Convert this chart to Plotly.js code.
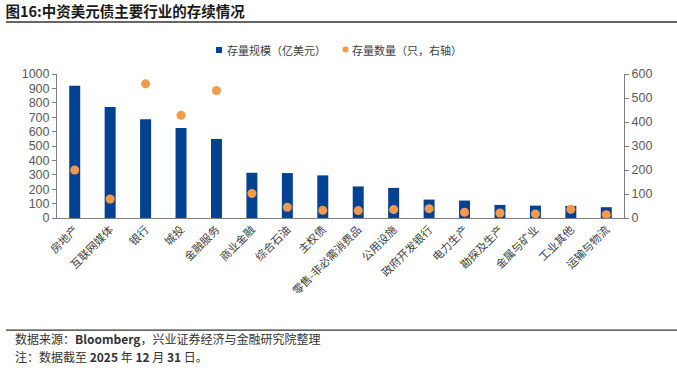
<!DOCTYPE html>
<html>
<head>
<meta charset="utf-8">
<script src="https://cdn.plot.ly/plotly-3.0.1.min.js"></script>
<style>
  html, body { margin: 0; padding: 0; background: #fff; }
  #chart { width: 677px; height: 372px; }
</style>
</head>
<body>
<div id="chart"></div>
<script>
const categories = ["房地产", "互联网媒体", "银行", "城投", "金融服务", "商业金融", "综合石油", "主权债",
  "零售-非必需消费品", "公用设施", "政府开发银行", "电力生产", "勘探及生产", "金属与矿业", "工业其他", "运输与物流"];
const sizeValues = [918, 770, 686, 625, 549, 314, 312, 296, 219, 209, 128, 121, 91, 86, 84, 75];
const countValues = [200, 79, 559, 428, 531, 102, 45, 32, 31, 35, 39, 24, 21, 17, 36, 14];
const leftTicks = [0, 100, 200, 300, 400, 500, 600, 700, 800, 900, 1000];
const rightTicks = [0, 100, 200, 300, 400, 500, 600];
const seriesNames = ["存量规模（亿美元）", "存量数量（只，右轴）"];
const barColor = "#034291";
const dotColor = "#F39A4C";

const font = "Liberation Sans, Arial, Noto Sans CJK SC, sans-serif";
const cjk = "Noto Sans CJK SC, Liberation Sans, sans-serif";

const traces = [
  {
    type: "bar", name: seriesNames[0], x: categories, y: sizeValues,
    marker: { color: barColor }, yaxis: "y", showlegend: false
  },
  {
    type: "scatter", mode: "markers", name: seriesNames[1], x: categories, y: countValues,
    marker: { color: dotColor, size: 9 }, yaxis: "y2", showlegend: false, cliponaxis: false
  }
];

const layout = {
  width: 677, height: 372,
  margin: { l: 57, r: 53, t: 74, b: 154 },
  paper_bgcolor: "#fff", plot_bgcolor: "#fff",
  bargap: 0.69,
  showlegend: false,
  title: {
    text: "<b>图16:中资美元债主要行业的存续情况</b>",
    x: 0.008, xanchor: "left", xref: "container",
    y: 0.967, yanchor: "middle", yref: "container",
    font: { family: cjk, size: 14.5, color: "#1a1a1a" }
  },
  xaxis: {
    type: "category", tickangle: -45, range: [-0.5, categories.length - 0.5],
    tickfont: { family: cjk, size: 11, color: "#404040" },
    showline: true, linecolor: "#7f7f7f", linewidth: 1,
    ticks: "", showgrid: false, zeroline: false, fixedrange: true
  },
  yaxis: {
    range: [0, 1000], tickvals: leftTicks, ticktext: leftTicks.map(String),
    tickfont: { family: font, size: 12.5, color: "#595959" },
    showline: true, linecolor: "#7f7f7f", linewidth: 1,
    ticks: "outside", ticklen: 4, tickcolor: "#7f7f7f",
    showgrid: false, zeroline: false, fixedrange: true
  },
  yaxis2: {
    range: [0, 600], tickvals: rightTicks, ticktext: rightTicks.map(String),
    overlaying: "y", side: "right",
    tickfont: { family: font, size: 12.5, color: "#595959" },
    showline: true, linecolor: "#7f7f7f", linewidth: 1,
    ticks: "outside", ticklen: 4, tickcolor: "#7f7f7f",
    showgrid: false, zeroline: false, fixedrange: true
  },
  shapes: [
    { type: "line", xref: "paper", yref: "paper", x0: -0.090, x1: 1.0935, y0: 1.361, y1: 1.361,
      line: { color: "#333333", width: 1.5 } },
    { type: "line", xref: "paper", yref: "paper", x0: -0.090, x1: 1.0935, y0: -0.778, y1: -0.778,
      line: { color: "#333333", width: 1.2 } },
    // legend keys
    { type: "rect", xref: "paper", yref: "paper", x0: 0.2804, x1: 0.2910, y0: 1.1458, y1: 1.1875,
      fillcolor: barColor, line: { width: 0 } },
    { type: "circle", xref: "paper", yref: "paper", x0: 0.5035, x1: 0.5141, y0: 1.1493, y1: 1.191,
      fillcolor: dotColor, line: { width: 0 } }
  ],
  annotations: [
    { xref: "paper", yref: "paper", x: 0.2963, y: 1.1667, xanchor: "left", yanchor: "middle",
      showarrow: false, text: seriesNames[0],
      font: { family: cjk, size: 11, color: "#404040" } },
    { xref: "paper", yref: "paper", x: 0.5168, y: 1.1667, xanchor: "left", yanchor: "middle",
      showarrow: false, text: seriesNames[1],
      font: { family: cjk, size: 11, color: "#404040" } },
    { xref: "paper", yref: "paper", x: -0.077, y: -0.84, xanchor: "left", yanchor: "middle",
      showarrow: false, align: "left",
      text: "数据来源：<b>Bloomberg</b>，兴业证券经济与金融研究院整理",
      font: { family: cjk, size: 12, color: "#333333" } },
    { xref: "paper", yref: "paper", x: -0.077, y: -0.965, xanchor: "left", yanchor: "middle",
      showarrow: false, align: "left",
      text: "注：数据截至 <b>2025</b> 年 <b>12</b> 月 <b>31</b> 日。",
      font: { family: cjk, size: 12, color: "#333333" } }
  ]
};

Plotly.newPlot("chart", traces, layout, { displayModeBar: false, staticPlot: true });
</script>
</body>
</html>
